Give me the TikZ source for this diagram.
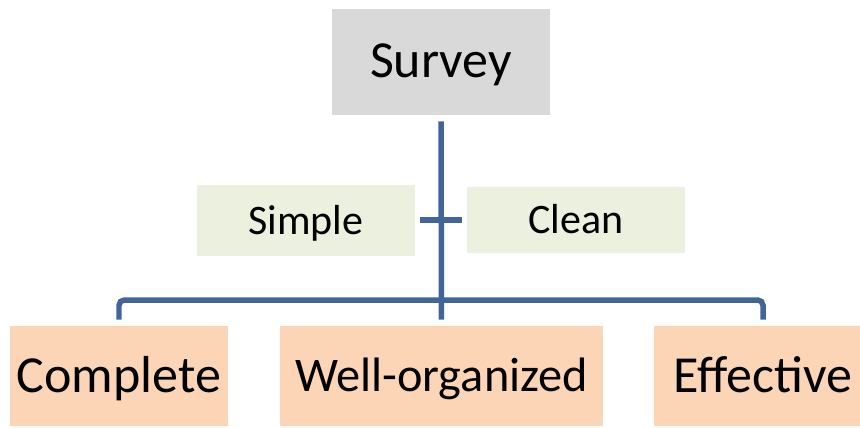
\documentclass[tikz,border=0pt]{standalone}
\usepackage{fontspec}
\setmainfont{Carlito}
\usetikzlibrary{positioning,calc}
\definecolor{linkblue}{HTML}{41659A}
\definecolor{rootgray}{HTML}{D9D9D9}
\definecolor{notegreen}{HTML}{EBF1DE}
\definecolor{leafpeach}{HTML}{FBD5B5}

\begin{document}
\begin{tikzpicture}[
    x=0.02cm, y=-0.02cm,
    rootbox/.style={rectangle, fill=rootgray, inner sep=0pt, minimum width=4.36cm, minimum height=2.12cm, text height=19pt, text depth=1.7pt, font=\fontsize{29.6pt}{32pt}\selectfont},
    notebox/.style={rectangle, fill=notegreen, inner sep=0pt, minimum width=4.36cm, text height=15.4pt, text depth=0pt, font=\fontsize{23.9pt}{26pt}\selectfont},
    leafbox/.style={rectangle, fill=leafpeach, inner sep=0pt, minimum height=2cm, text height=19pt, text depth=0pt, font=\fontsize{29.6pt}{32pt}\selectfont},
    link/.style={draw=linkblue, line width=0.11cm, rounded corners=3pt}
  ]
    \clip (0,0) rectangle (860,427);
    \node[rootbox] (survey) at (441,62) {Survey};
    \node[notebox, minimum height=1.42cm] (simple) at (306,220.5) {Simple};
    \node[notebox, minimum height=1.32cm] (clean) at (576,220) {Clean};
    \node[leafbox, minimum width=4.36cm] (complete) at (119,376) {Complete};
    \node[leafbox, minimum width=6.46cm, text height=17.7pt, text depth=-1.4pt, font=\fontsize{27.5pt}{30pt}\selectfont] (organized) at (441.5,376) {Well-organized};
    \node[leafbox, minimum width=4.36cm] (effective) at (763,376) {Effective};
    \coordinate (tickl) at (420,220);
    \coordinate (tickr) at (462,220);
    \coordinate (hub) at (441,300);
    \draw[link, shorten <=0.12cm, shorten >=0.12cm] (survey.south) -- (organized.north);
    \draw[link] (tickl) -- (tickr);
    \draw[link, shorten <=0.12cm, shorten >=0.12cm] (complete.north) |- (hub) -| (effective.north);
  \end{tikzpicture}
\end{document}
